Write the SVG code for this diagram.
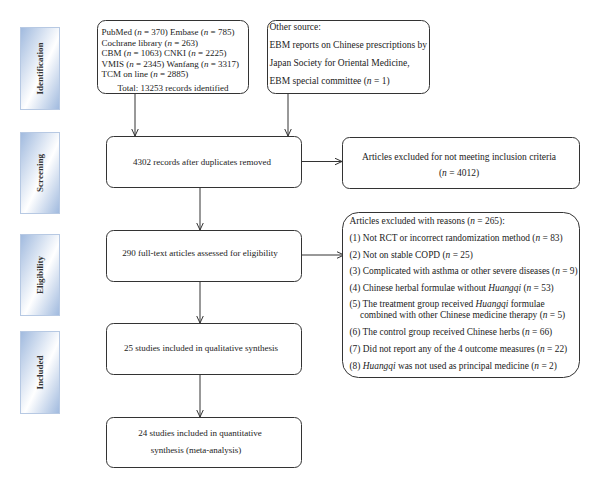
<svg xmlns="http://www.w3.org/2000/svg" width="600" height="488" viewBox="0 0 600 488">
<defs>
<linearGradient id="phase" x1="0" y1="0" x2="1" y2="1">
<stop offset="0" stop-color="#9fb9de"/>
<stop offset="0.55" stop-color="#ffffff"/>
<stop offset="1" stop-color="#9fb9de"/>
</linearGradient>
<marker id="arr" viewBox="0 0 8 8" refX="7.5" refY="4" markerWidth="8" markerHeight="8" markerUnits="userSpaceOnUse" orient="auto">
<path d="M0,0.5 L7.5,4 L0,7.5" fill="none" stroke="#333" stroke-width="1"/>
</marker>
<style>
.ph{fill:url(#phase);stroke:#b7c9e3;stroke-width:1}
.pt{font-family:"Liberation Serif","Times New Roman",serif;font-size:9px;font-weight:bold;fill:#333;text-anchor:middle}
.bx{fill:#fff;stroke:#333;stroke-width:1}
.t{font-family:"Liberation Serif","Times New Roman",serif;font-size:9px;fill:#222}
.m{font-size:9.5px}
.e{font-size:9.4px}
.c{text-anchor:middle}
.ln{fill:none;stroke:#333;stroke-width:1;marker-end:url(#arr)}
</style>
</defs>
<rect width="600" height="488" fill="#fff"/>

<g id="phase-identification"><rect class="ph" x="20.5" y="27.5" width="39" height="82"/><text class="pt" transform="translate(43,68.5) rotate(-90)">Identification</text></g>
<g id="phase-screening"><rect class="ph" x="20.5" y="132.5" width="39" height="81"/><text class="pt" transform="translate(43,173) rotate(-90)">Screening</text></g>
<g id="phase-eligibility"><rect class="ph" x="20.5" y="234.5" width="39" height="81"/><text class="pt" transform="translate(43,275) rotate(-90)">Eligibility</text></g>
<g id="phase-included"><rect class="ph" x="20.5" y="331.5" width="39" height="82"/><text class="pt" transform="translate(43,372.5) rotate(-90)">Included</text></g>

<g id="connectors">
<path class="ln" d="M135,93 V136"/>
<path class="ln" d="M288,93 V136"/>
<path class="ln" d="M302,161.5 H342"/>
<path class="ln" d="M200,187 V230"/>
<path class="ln" d="M302,255 H344"/>
<path class="ln" d="M200,281 V323"/>
<path class="ln" d="M200,374 V417"/>
</g>

<g id="databases">
<rect class="bx" x="97.5" y="20.5" width="151" height="73" rx="8"/>
<text class="t" x="101.5" y="35">PubMed (<tspan font-style="italic">n</tspan> = 370) Embase (<tspan font-style="italic">n</tspan> = 785)</text>
<text class="t" x="101.5" y="45.5">Cochrane library (<tspan font-style="italic">n</tspan> = 263)</text>
<text class="t" x="101.5" y="56">CBM (<tspan font-style="italic">n</tspan> = 1063) CNKI (<tspan font-style="italic">n</tspan> = 2225)</text>
<text class="t" x="101.5" y="66.5">VMIS (<tspan font-style="italic">n</tspan> = 2345) Wanfang (<tspan font-style="italic">n</tspan> = 3317)</text>
<text class="t" x="101.5" y="77">TCM on line (<tspan font-style="italic">n</tspan> = 2885)</text>
<text class="t c" x="173" y="90.5">Total: 13253 records identified</text>
</g>

<g id="other-source">
<rect class="bx" x="267.5" y="20.5" width="162" height="73" rx="8"/>
<text class="t m" x="269.5" y="30">Other source:</text>
<text class="t m" x="269.5" y="48">EBM reports on Chinese prescriptions by</text>
<text class="t m" x="269.5" y="66">Japan Society for Oriental Medicine,</text>
<text class="t m" x="269.5" y="83.5">EBM special committee (<tspan font-style="italic">n</tspan> = 1)</text>
</g>

<g id="screened">
<rect class="bx" x="106.5" y="136.5" width="195" height="51" rx="7"/>
<text class="t c" x="202" y="165">4302 records after duplicates removed</text>
</g>

<g id="excluded-screening">
<rect class="bx" x="342.5" y="137.5" width="237" height="51" rx="7"/>
<text class="t m c" x="459" y="160">Articles excluded for not meeting inclusion criteria</text>
<text class="t m c" x="459" y="175.5">(<tspan font-style="italic">n</tspan> = 4012)</text>
</g>

<g id="eligibility">
<rect class="bx" x="106.5" y="230.5" width="195" height="51" rx="7"/>
<text class="t c" x="200" y="256">290 full-text articles assessed for eligibility</text>
</g>

<g id="excluded-eligibility">
<rect class="bx" x="342.5" y="212.5" width="237" height="165" rx="16"/>
<text class="t e" x="349.5" y="224">Articles excluded with reasons (<tspan font-style="italic">n</tspan> = 265):</text>
<text class="t e" x="349.5" y="240.5">(1) Not RCT or incorrect randomization method (<tspan font-style="italic">n</tspan> = 83)</text>
<text class="t e" x="349.5" y="257.5">(2) Not on stable COPD (<tspan font-style="italic">n</tspan> = 25)</text>
<text class="t e" x="349.5" y="274">(3) Complicated with asthma or other severe diseases (<tspan font-style="italic">n</tspan> = 9)</text>
<text class="t e" x="349.5" y="291">(4) Chinese herbal formulae without <tspan font-style="italic">Huangqi</tspan> (<tspan font-style="italic">n</tspan> = 53)</text>
<text class="t e" x="349.5" y="306.5">(5) The treatment group received <tspan font-style="italic">Huangqi</tspan> formulae</text>
<text class="t e" x="360" y="317.5">combined with other Chinese medicine therapy (<tspan font-style="italic">n</tspan> = 5)</text>
<text class="t e" x="349.5" y="334.5">(6) The control group received Chinese herbs (<tspan font-style="italic">n</tspan> = 66)</text>
<text class="t e" x="349.5" y="351.5">(7) Did not report any of the 4 outcome measures (<tspan font-style="italic">n</tspan> = 22)</text>
<text class="t e" x="349.5" y="368.5">(8) <tspan font-style="italic">Huangqi</tspan> was not used as principal medicine (<tspan font-style="italic">n</tspan> = 2)</text>
</g>

<g id="qualitative">
<rect class="bx" x="106.5" y="323.5" width="195" height="51" rx="7"/>
<text class="t c" x="201" y="351">25 studies included in qualitative synthesis</text>
</g>

<g id="quantitative">
<rect class="bx" x="106.5" y="417.5" width="195" height="50" rx="7"/>
<text class="t c" x="200" y="436">24 studies included in quantitative</text>
<text class="t c" x="196" y="453">synthesis (meta-analysis)</text>
</g>
</svg>
